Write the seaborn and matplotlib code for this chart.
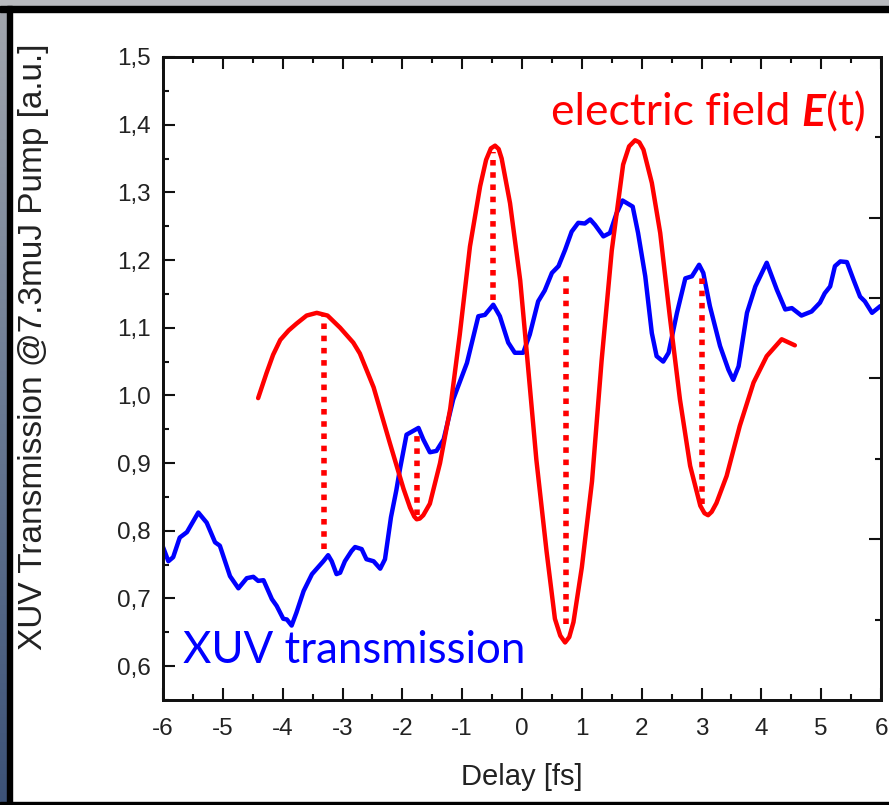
import numpy as np
import pandas as pd
import matplotlib
matplotlib.use("Agg")
import matplotlib.pyplot as plt
import seaborn as sns
from matplotlib.colors import LinearSegmentedColormap
from matplotlib.patches import Rectangle
from matplotlib.ticker import FixedLocator, MultipleLocator, NullFormatter

# ---------------- data ----------------
xuv_delay = [-6.00, -5.91, -5.83, -5.72, -5.60, -5.41, -5.27, -5.13, -5.05, -4.88,
             -4.74, -4.60, -4.49, -4.41, -4.32, -4.18, -4.10, -3.99, -3.93, -3.85,
             -3.77, -3.65, -3.51, -3.43, -3.32, -3.24, -3.18, -3.10, -3.04, -2.96,
             -2.85, -2.79, -2.68, -2.60, -2.48, -2.37, -2.29, -2.19, -2.10, -2.04,
             -1.93, -1.73, -1.65, -1.54, -1.43, -1.31, -1.15, -0.92, -0.73, -0.62,
             -0.48, -0.37, -0.23, -0.12, 0.02, 0.13, 0.27, 0.38, 0.50, 0.61,
             0.72, 0.83, 0.94, 1.05, 1.14, 1.22, 1.36, 1.47, 1.58, 1.68,
             1.85, 1.94, 2.06, 2.17, 2.25, 2.36, 2.45, 2.59, 2.73, 2.84,
             2.96, 3.03, 3.14, 3.31, 3.45, 3.53, 3.62, 3.76, 3.90, 4.09,
             4.26, 4.40, 4.51, 4.67, 4.84, 4.98, 5.06, 5.15, 5.23, 5.32,
             5.43, 5.54, 5.65, 5.73, 5.85, 5.99]
xuv_trans = [0.776, 0.755, 0.761, 0.790, 0.798, 0.827, 0.812, 0.783, 0.778, 0.733,
             0.715, 0.730, 0.732, 0.726, 0.727, 0.699, 0.689, 0.670, 0.669, 0.660,
             0.679, 0.711, 0.736, 0.744, 0.755, 0.764, 0.755, 0.736, 0.738, 0.755,
             0.770, 0.776, 0.773, 0.758, 0.755, 0.744, 0.758, 0.820, 0.860, 0.891,
             0.942, 0.952, 0.935, 0.916, 0.918, 0.935, 0.994, 1.048, 1.117, 1.119,
             1.134, 1.117, 1.078, 1.063, 1.063, 1.090, 1.139, 1.155, 1.181, 1.191,
             1.215, 1.242, 1.255, 1.254, 1.260, 1.252, 1.235, 1.240, 1.269, 1.288,
             1.279, 1.240, 1.176, 1.092, 1.058, 1.050, 1.063, 1.122, 1.173, 1.176,
             1.193, 1.181, 1.132, 1.073, 1.038, 1.023, 1.043, 1.122, 1.161, 1.196,
             1.156, 1.127, 1.129, 1.118, 1.124, 1.137, 1.151, 1.161, 1.191, 1.198,
             1.197, 1.171, 1.146, 1.139, 1.122, 1.132]

field_delay = [-4.41, -4.27, -4.16, -4.04, -3.90, -3.77, -3.60, -3.43, -3.25, -3.04,
               -2.82, -2.71, -2.48, -2.21, -1.98, -1.87, -1.80, -1.76, -1.71, -1.65,
               -1.54, -1.37, -1.20, -1.04, -0.87, -0.70, -0.60, -0.52, -0.45, -0.39,
               -0.34, -0.20, -0.03, 0.08, 0.24, 0.41, 0.55, 0.64, 0.72, 0.79,
               0.86, 1.00, 1.17, 1.33, 1.50, 1.69, 1.79, 1.89, 1.96, 2.03,
               2.17, 2.31, 2.47, 2.64, 2.81, 2.98, 3.05, 3.11, 3.17, 3.25,
               3.42, 3.64, 3.87, 4.09, 4.34, 4.56]
field_value = [0.996, 1.033, 1.060, 1.082, 1.096, 1.106, 1.118, 1.122, 1.118, 1.100,
               1.078, 1.062, 1.012, 0.930, 0.862, 0.834, 0.821, 0.817, 0.818, 0.823,
               0.840, 0.900, 0.980, 1.090, 1.220, 1.309, 1.348, 1.365, 1.369, 1.364,
               1.350, 1.284, 1.170, 1.063, 0.905, 0.770, 0.670, 0.645, 0.635, 0.643,
               0.665, 0.746, 0.873, 1.051, 1.214, 1.341, 1.368, 1.377, 1.374, 1.363,
               1.314, 1.240, 1.117, 0.994, 0.896, 0.837, 0.826, 0.823, 0.828, 0.841,
               0.881, 0.955, 1.019, 1.058, 1.083, 1.074]

marker_delay = [-3.31, -1.76, -0.48, 0.74, 3.00]
marker_low = [0.773, 0.824, 1.141, 0.662, 0.839]
marker_high = [1.119, 0.940, 1.360, 1.183, 1.178]

x_ticks = [-6, -5, -4, -3, -2, -1, 0, 1, 2, 3, 4, 5, 6]
x_tick_labels = ["-6", "-5", "-4", "-3", "-2", "-1", "0", "1", "2", "3", "4", "5", "6"]
y_ticks = [0.6, 0.7, 0.8, 0.9, 1.0, 1.1, 1.2, 1.3, 1.4, 1.5]
y_tick_labels = ["0,6", "0,7", "0,8", "0,9", "1,0", "1,1", "1,2", "1,3", "1,4", "1,5"]
right_major = [-2, 0, 1, 2]
right_minor = [-3, -1, 3]

# ---------------- style ----------------
sns.set_theme(style="ticks")
plt.rcParams['font.family'] = ['Liberation Sans', 'DejaVu Sans']
W, H = 889, 805
fig = plt.figure(figsize=(W / 100, H / 100), dpi=100)
fig.patch.set_facecolor("white")

ax = fig.add_axes([163 / W, 105 / H, 718 / W, 643 / H])
ax.set_facecolor("white")

df_x = pd.DataFrame({"delay": xuv_delay, "value": xuv_trans})
df_e = pd.DataFrame({"delay": field_delay, "value": field_value})
sns.lineplot(data=df_e, x="delay", y="value", ax=ax, color="#ff0000", lw=3.2,
             estimator=None, sort=False, zorder=3)
sns.lineplot(data=df_x, x="delay", y="value", ax=ax, color="#0000ff", lw=3.2,
             estimator=None, sort=False, zorder=2)
ax.vlines(marker_delay, marker_low, marker_high, colors="#ff0000", lw=4.0,
          linestyles=(0, (1, 1.2)), zorder=4)

ax.set_xlim(-6, 6)
ax.set_ylim(0.55, 1.5)
ax.set_xticks(x_ticks)
ax.set_xticklabels(x_tick_labels)
ax.set_yticks(y_ticks)
ax.set_yticklabels(y_tick_labels)
ax.xaxis.set_minor_locator(MultipleLocator(0.5))
ax.yaxis.set_minor_locator(MultipleLocator(0.05))
ax.tick_params(which="both", direction="in", top=True, right=False,
               color="#111111", width=1.5, labelsize=17.5, labelcolor="#222222")
ax.tick_params(which="major", length=8.5)
ax.tick_params(which="minor", length=4)
ax.tick_params(axis="y", pad=9)
ax.tick_params(axis="x", pad=13)
for s in ax.spines.values():
    s.set_linewidth(2.0)
    s.set_color("#111111")

ax2 = ax.twinx()
ax2.set_ylim(-4, 4)
ax2.yaxis.set_major_locator(FixedLocator(right_major))
ax2.yaxis.set_minor_locator(FixedLocator(right_minor))
ax2.yaxis.set_major_formatter(NullFormatter())
ax2.tick_params(which="both", direction="in", color="#111111", width=1.5)
ax2.tick_params(which="major", length=8.5)
ax2.tick_params(which="minor", length=4)
for s in ax2.spines.values():
    s.set_linewidth(2.0)
    s.set_color("#111111")

ax.set_xlabel("Delay [fs]", fontsize=21, color="#222222")
ax.set_ylabel("XUV Transmission @7.3muJ Pump [a.u.]", fontsize=24, color="#222222")
ax.xaxis.set_label_coords(0.5, -0.098)
ax.yaxis.set_label_coords(-0.159, 0.549)

# annotations
t1 = fig.text(551 / W, 1 - 125 / H, "electric field ", fontsize=32, color="#ff0000",
              family="Lato", va="baseline", ha="left")
t2 = ax.annotate("E", xy=(1, 0), xycoords=t1, fontsize=32, color="#ff0000",
                 family="Lato", weight="bold", style="italic", va="bottom", ha="left")
t3 = ax.annotate("(t)", xy=(1, 0), xycoords=t2, fontsize=32, color="#ff0000",
                 family="Lato", va="bottom", ha="left")
fig.text(183 / W, 1 - 663 / H, "XUV transmission", fontsize=31.5, color="#0000ff",
         family="Lato", va="baseline", ha="left")

# frame around the picture
fig.patches.append(Rectangle((0, 1 - 6 / H), 1, 6 / H, transform=fig.transFigure,
                             color="#b8babe", zorder=10))
fig.patches.append(Rectangle((0, 1 - 12 / H), 1, 6 / H, transform=fig.transFigure,
                             color="#000000", zorder=10))
fig.patches.append(Rectangle((7 / W, 0), 5 / W, 1 - 6 / H, transform=fig.transFigure,
                             color="#000000", zorder=10))
fig.patches.append(Rectangle((0, 0), 1, 3 / H, transform=fig.transFigure,
                             color="#000000", zorder=10))
gax = fig.add_axes([0, 0, 7 / W, 1 - 6 / H])
cmap = LinearSegmentedColormap.from_list("edge", ["#3c5277", "#6a7a93", "#a3a7ae"])
gax.imshow(np.linspace(0, 1, 256)[:, None][::-1], aspect="auto", cmap=cmap,
           extent=[0, 1, 0, 1])
gax.set_axis_off()

fig.savefig("out.png", dpi=100)
